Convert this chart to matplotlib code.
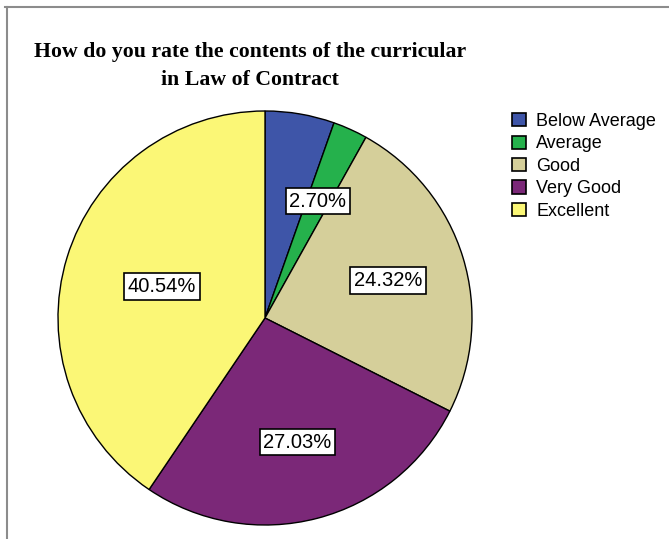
import matplotlib
matplotlib.use("Agg")
from matplotlib import pyplot as plt
from matplotlib.patches import Patch
from matplotlib.lines import Line2D
import numpy as np

# data
categories = ["Below Average", "Average", "Good", "Very Good", "Excellent"]
percents = [5.41, 2.70, 24.32, 27.03, 40.54]
shown = [False, True, True, True, True]
colors = ["#3e55a8", "#25b14c", "#d5cf9a", "#7b2878", "#fbf776"]

fig = plt.figure(figsize=(6.69, 5.39), dpi=100)
fig.patch.set_facecolor("white")

W, H = 669, 539
cx, cy, R = 265, 318, 207
ax = fig.add_axes([(cx - R) / W, (H - cy - R) / H, 2 * R / W, 2 * R / H])

wedges, texts, autotexts = ax.pie(
    percents, colors=colors, startangle=90, counterclock=False,
    autopct="%.2f%%", pctdistance=0.62,
    wedgeprops=dict(edgecolor="black", linewidth=1.0),
)
ax.set_xlim(-1, 1)
ax.set_ylim(-1, 1)
ax.set_aspect("equal")
ax.axis("off")

# label styling, excellent label sits a bit closer to center
for i, t in enumerate(autotexts):
    if not shown[i]:
        t.set_visible(False)
        continue
    t.set_fontfamily("Liberation Sans")
    t.set_fontsize(14.5)
    t.set_color("black")
    t.set_bbox(dict(facecolor="white", edgecolor="black", linewidth=1.2, boxstyle="square,pad=0.18"))
    if categories[i] == "Excellent":
        w = wedges[i]
        ang = np.deg2rad((w.theta1 + w.theta2) / 2)
        t.set_position((0.52 * np.cos(ang), 0.52 * np.sin(ang)))

# title
fig.text(250 / W, 1 - 66 / H, "How do you rate the contents of the curricular\nin Law of Contract",
         ha="center", va="center", multialignment="center",
         fontfamily="Liberation Serif", fontweight="bold", fontsize=15.7, linespacing=1.55)

# legend
handles = [Patch(facecolor=c, edgecolor="black", linewidth=1.2) for c in colors]
fig.legend(handles, categories, loc="upper left", bbox_to_anchor=(512 / W, 1 - 113 / H),
           frameon=False, prop=dict(family="Liberation Sans", size=13),
           handlelength=0.75, handleheight=0.75, handletextpad=0.6,
           labelspacing=0.3, borderaxespad=0, borderpad=0)

# frame lines on top and left
fig.add_artist(Line2D([5 / W, 1], [1 - 7 / H, 1 - 7 / H], color="#8c8c8c", linewidth=1.5,
                      transform=fig.transFigure))
fig.add_artist(Line2D([7 / W, 7 / W], [0, 1 - 7 / H], color="#8c8c8c", linewidth=1.5,
                      transform=fig.transFigure))

fig.savefig("out.png", dpi=100)
